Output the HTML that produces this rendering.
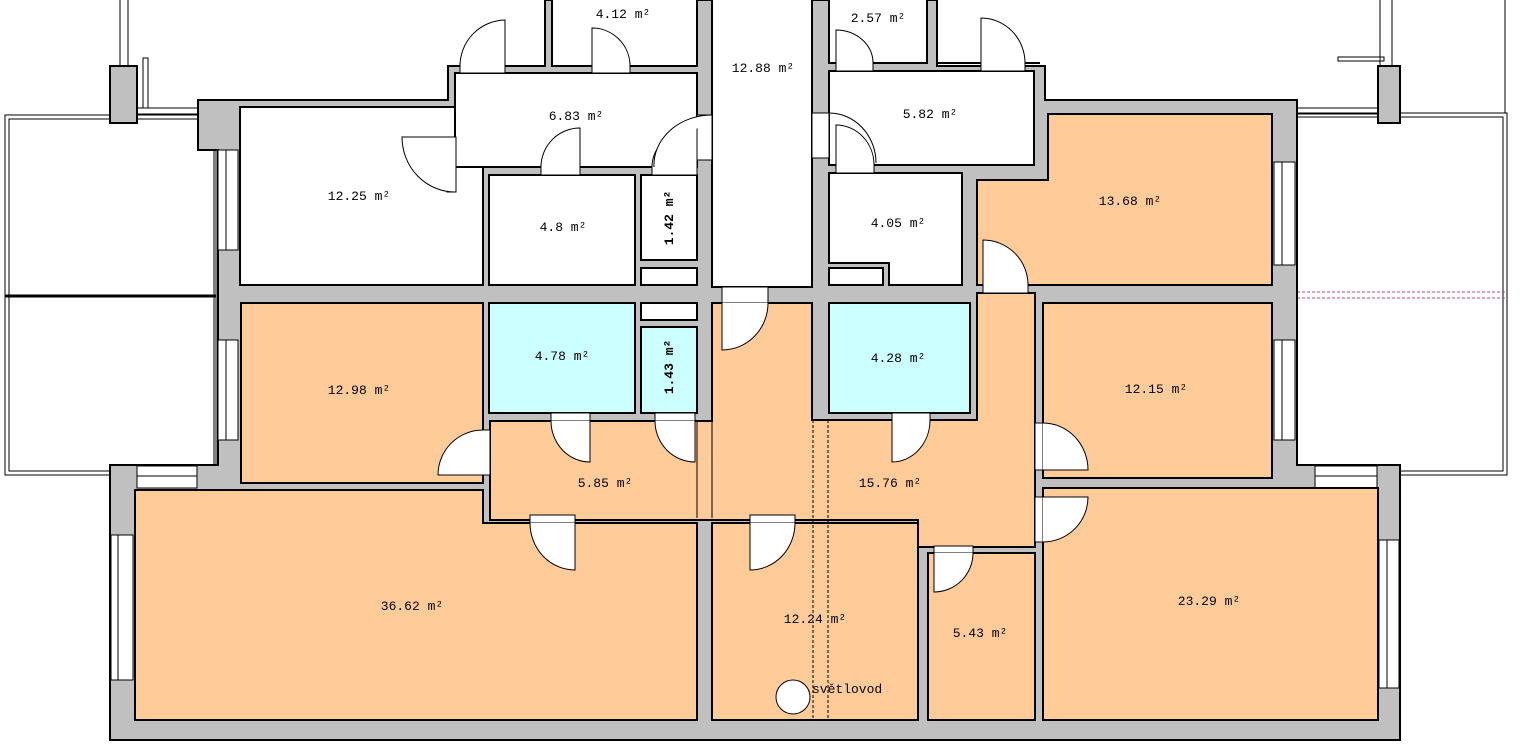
<!DOCTYPE html>
<html><head><meta charset="utf-8"><style>
html,body{margin:0;padding:0;background:#fff;}
svg{display:block;}
text{font-family:"Liberation Mono",monospace;font-size:13px;fill:#000;text-anchor:middle;}
</style></head><body>
<svg width="1523" height="751" viewBox="0 0 1523 751" xmlns="http://www.w3.org/2000/svg">
<g fill="none" stroke="#000" stroke-width="1">
<rect x="5" y="115" width="211" height="360"/>
<rect x="9" y="119" width="205" height="352"/>
<line x1="5" y1="296" x2="216" y2="296" stroke-width="3"/>
<rect x="1297" y="113" width="210" height="362"/>
<rect x="1297" y="117" width="206" height="354"/>
<line x1="120" y1="0" x2="120" y2="66"/><line x1="128" y1="0" x2="128" y2="66"/>
<line x1="1380" y1="0" x2="1380" y2="66"/><line x1="1392" y1="0" x2="1392" y2="66"/>
<line x1="1505" y1="0" x2="1505" y2="113"/>
<rect x="143" y="58" width="5" height="50"/>
<rect x="1338" y="57" width="46" height="4"/>
<line x1="137" y1="108" x2="198" y2="108"/><line x1="137" y1="114" x2="198" y2="114"/>
<line x1="1297" y1="108" x2="1378" y2="108"/><line x1="1297" y1="114" x2="1378" y2="114"/>
</g>
<g stroke="#c04090" stroke-width="1" stroke-dasharray="3,2">
<line x1="1297" y1="292" x2="1505" y2="292"/><line x1="1297" y1="298" x2="1505" y2="298"/>
</g>
<path d="M198,100 L448,100 L448,66 L545,66 L545,0 L937,0 L937,66 L1045,66 L1045,100 L1297,100 L1297,465 L1400,465 L1400,740 L110,740 L110,465 L218,465 L218,150 L198,150 Z" fill="#c0c0c0" stroke="#000" stroke-width="2"/>
<rect x="110" y="66" width="27" height="57" fill="#c0c0c0" stroke="#000" stroke-width="2"/>
<rect x="1378" y="66" width="22" height="57" fill="#c0c0c0" stroke="#000" stroke-width="2"/>
<g fill="#fff" stroke="#000" stroke-width="1">
<rect x="218" y="150" width="20" height="100"/><line x1="226" y1="150" x2="226" y2="250"/>
<rect x="218" y="340" width="20" height="100"/><line x1="226" y1="340" x2="226" y2="440"/>
<rect x="1274" y="162" width="21" height="103"/><line x1="1282" y1="162" x2="1282" y2="265"/>
<rect x="1274" y="340" width="21" height="100"/><line x1="1282" y1="340" x2="1282" y2="440"/>
<rect x="111" y="535" width="22" height="145"/><line x1="118" y1="535" x2="118" y2="680"/>
<rect x="1379" y="540" width="20" height="148"/><line x1="1387" y1="540" x2="1387" y2="688"/>
<rect x="137" y="466" width="60" height="22"/><line x1="137" y1="476" x2="197" y2="476"/>
<rect x="1315" y="466" width="62" height="22"/><line x1="1315" y1="476" x2="1377" y2="476"/>
</g>
<g stroke="#000" stroke-width="2">
<rect x="240" y="107" width="243" height="178" fill="#fff"/>
<rect x="455" y="73" width="242" height="94" fill="#fff"/>
<rect x="552" y="-2" width="145" height="68" fill="#fff"/>
<rect x="489" y="175" width="146" height="110" fill="#fff"/>
<rect x="641" y="175" width="56" height="85" fill="#fff"/>
<rect x="641" y="268" width="56" height="17" fill="#fff"/>
<rect x="712" y="-2" width="100" height="289" fill="#fff"/>
<rect x="829" y="-2" width="98" height="65" fill="#fff"/>
<path d="M937,0 L937,63 L1040,63" fill="#fff"/>
<rect x="829" y="71" width="205" height="94" fill="#fff"/>
<path d="M829,173 L962,173 L962,285 L889,285 L889,263 L829,263 Z" fill="#fff"/>
<rect x="829" y="268" width="54" height="17" fill="#fff"/>
<path d="M977,180 L1048,180 L1048,114 L1272,114 L1272,285 L977,285 Z" fill="#ffcc99"/>
<rect x="241" y="303" width="242" height="180" fill="#ffcc99"/>
<rect x="489" y="303" width="146" height="110" fill="#ccffff"/>
<rect x="641" y="327" width="56" height="86" fill="#ccffff"/>
<rect x="641" y="303" width="56" height="17" fill="#fff"/>
<rect x="829" y="303" width="141" height="110" fill="#ccffff"/>
<rect x="1043" y="303" width="229" height="175" fill="#ffcc99"/>
<path d="M712,303 L812,303 L812,420 L977,420 L977,293 L1035,293 L1035,547 L918,547 L918,520 L490,520 L490,421 L712,421 Z" fill="#ffcc99"/>
<path d="M135,490 L483,490 L483,523 L697,523 L697,720 L135,720 Z" fill="#ffcc99"/>
<rect x="712" y="523" width="206" height="197" fill="#ffcc99"/>
<rect x="928" y="553" width="107" height="167" fill="#ffcc99"/>
<rect x="1043" y="488" width="335" height="232" fill="#ffcc99"/>
</g>
<g stroke="#000" stroke-width="1">
<line x1="697" y1="421" x2="697" y2="518"/><line x1="712" y1="421" x2="712" y2="518"/>
</g>
<g stroke="#000" stroke-width="1" stroke-dasharray="3,2">
<line x1="813" y1="420" x2="813" y2="720"/><line x1="828" y1="420" x2="828" y2="720"/>
</g>
<g fill="#fff" stroke="#000" stroke-width="1">
<rect x="460" y="63" width="45" height="10"/><path d="M505,66 L505,20 A46,46 0 0 0 460,66"/>
<rect x="592" y="63" width="38" height="10"/><path d="M592,66 L592,28 A38,38 0 0 1 630,66"/>
<rect x="447" y="137" width="9" height="55"/><path d="M455,137 L402,137 A53,55 0 0 0 455,192"/>
<rect x="541" y="165" width="39" height="10"/><path d="M580,167 L580,128 A39,39 0 0 0 541,167"/>
<rect x="652" y="165" width="45" height="10"/><path d="M697,167 L697,128 A45,39 0 0 0 652,167"/>
<rect x="697" y="115" width="15" height="45"/><path d="M712,115 A58,50 0 0 0 654,167"/>
<rect x="722" y="287" width="46" height="16"/><path d="M722,303 L722,350 A46,47 0 0 0 768,303"/>
<rect x="836" y="61" width="37" height="10"/><path d="M836,63 L836,30 A37,33 0 0 1 873,63"/>
<rect x="981" y="61" width="44" height="10"/><path d="M981,63 L981,18 A44,45 0 0 1 1025,63"/>
<rect x="812" y="113" width="17" height="45"/><path d="M829,113 A47,50 0 0 1 876,163"/>
<rect x="836" y="163" width="38" height="10"/><path d="M836,165 L836,125 A38,40 0 0 1 874,165"/>
<rect x="983" y="283" width="45" height="10"/><path d="M983,285 L983,240 A45,45 0 0 1 1028,285"/>
<rect x="482" y="430" width="8" height="45"/><path d="M483,475 L438,475 A45,45 0 0 1 483,430"/>
<rect x="551" y="413" width="39" height="8"/><path d="M590,421 L590,462 A39,41 0 0 1 551,421"/>
<rect x="655" y="413" width="40" height="8"/><path d="M695,421 L695,462 A40,41 0 0 1 655,421"/>
<rect x="892" y="413" width="38" height="8"/><path d="M892,420 L892,462 A38,42 0 0 0 930,420"/>
<rect x="1035" y="423" width="8" height="47"/><path d="M1043,470 L1088,470 A45,47 0 0 0 1043,423"/>
<rect x="1035" y="497" width="8" height="45"/><path d="M1043,497 L1088,497 A45,45 0 0 1 1043,542"/>
<rect x="530" y="515" width="45" height="8"/><path d="M575,523 L575,570 A45,47 0 0 1 530,523"/>
<rect x="750" y="515" width="45" height="8"/><path d="M750,523 L750,570 A45,47 0 0 0 795,523"/>
<rect x="934" y="546" width="39" height="7"/><path d="M934,553 L934,592 A39,39 0 0 0 973,553"/>
</g>
<circle cx="793" cy="697" r="17" fill="#fff" stroke="#000" stroke-width="1"/>
<text x="623" y="18">4.12 m²</text>
<text x="763" y="72">12.88 m²</text>
<text x="878" y="22">2.57 m²</text>
<text x="576" y="120">6.83 m²</text>
<text x="930" y="118">5.82 m²</text>
<text x="359" y="200">12.25 m²</text>
<text x="563" y="231">4.8 m²</text>
<text x="898" y="227">4.05 m²</text>
<text x="1130" y="205">13.68 m²</text>
<text x="359" y="394">12.98 m²</text>
<text x="562" y="360">4.78 m²</text>
<text x="898" y="362">4.28 m²</text>
<text x="1156" y="393">12.15 m²</text>
<text x="605" y="487">5.85 m²</text>
<text x="890" y="487">15.76 m²</text>
<text x="412" y="610">36.62 m²</text>
<text x="815" y="623">12.24 m²</text>
<text x="980" y="637">5.43 m²</text>
<text x="1209" y="605">23.29 m²</text>
<text x="812" y="693" style="text-anchor:start">světlovod</text>
<text transform="translate(673,218) rotate(-90)" style="font-weight:bold">1.42 m²</text>
<text transform="translate(673,367) rotate(-90)" style="font-weight:bold">1.43 m²</text>
</svg>
</body></html>
